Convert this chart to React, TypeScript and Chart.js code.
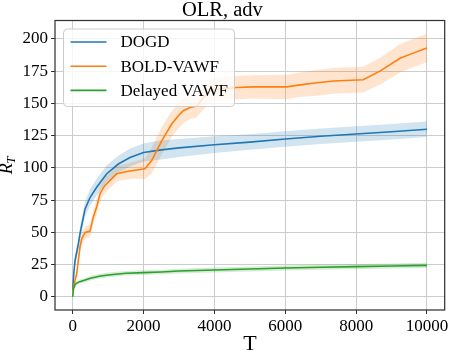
import React, { useEffect, useRef } from "react";
import { Chart, registerables } from "chart.js";

Chart.register(...registerables);

// ---------- data ----------
const titleText = "OLR, adv";
const xLabel = "T";
const yLabelMain = "R";
const yLabelSub = "T";
const legendLabels = ["DOGD", "BOLD-VAWF", "Delayed VAWF"];

const xTicks = [0, 2000, 4000, 6000, 8000, 10000];
const yTicks = [0, 25, 50, 75, 100, 125, 150, 175, 200];

const dogdT = [0, 30, 65, 160, 206, 347, 488, 677, 960, 1288, 1617, 2000, 2500, 3000, 4000, 5000, 6000, 7000, 8000, 9000, 10000];
const dogdMean = [5, 18, 28, 41, 49, 68, 77, 85, 95.5, 103, 108, 112, 114, 115.5, 118, 120, 122.4, 124.5, 126.3, 128, 130];
const dogdBand = [1, 3, 4, 5, 5.5, 6, 6.5, 6.5, 6.5, 6.5, 7, 7, 7.5, 7, 6.5, 6, 6, 6, 6, 6, 6];

const boldT = [0, 60, 113, 160, 206, 254, 350, 488, 583, 680, 771, 900, 1054, 1241, 1500, 1711, 2040, 2229, 2371, 2512, 2653, 2794, 2982, 3122, 3311, 3500, 3641, 3875, 4064, 4628, 5100, 6040, 6420, 6890, 7360, 8200, 8670, 9240, 9610, 10000];
const boldMean = [5, 12, 18, 28.5, 38.8, 45, 50, 51, 62, 70, 80, 86, 90.3, 95.4, 97, 98, 99.3, 105.7, 113.4, 121, 127.6, 134, 140.4, 144.3, 146.8, 148, 153, 159.7, 161, 162.3, 162.8, 162.8, 164.4, 166, 167.4, 168.4, 175, 185, 189, 193];
const boldBand = [1, 2, 3, 4, 4, 5, 5, 5, 5.5, 6, 6, 6, 6, 6, 6, 6.5, 8, 10, 10.5, 10.5, 10.5, 10, 10, 9.5, 9, 9, 9, 9, 9, 9, 9, 9.5, 9.5, 10, 10, 10, 10.5, 11, 11, 11];

const delayT = [0, 20, 50, 100, 200, 350, 500, 750, 1000, 1500, 2000, 2500, 3000, 4000, 5000, 6000, 7000, 8000, 9000, 10000];
const delayMean = [0, 6, 8.5, 10.5, 11.8, 13, 14.4, 16, 17, 18.3, 18.8, 19.3, 20, 20.8, 21.6, 22.4, 23, 23.4, 23.9, 24.4];
const delayBand = [0.3, 1, 1.3, 1.5, 1.5, 1.6, 1.7, 1.8, 1.8, 1.8, 1.8, 1.8, 1.8, 1.9, 1.9, 1.9, 2, 2, 2, 2];

const colors = ["#1f77b4", "#ff7f0e", "#2ca02c"];
const bandColors = ["rgba(31,119,180,0.2)", "rgba(255,127,14,0.2)", "rgba(44,160,44,0.2)"];

const SERIF = "'Liberation Serif', 'DejaVu Serif', serif";

function pts(t: number[], v: number[], d: number[], sign: number) {
  return t.map((x, i) => ({ x, y: v[i] + sign * d[i] }));
}

function lineDs(label: string, t: number[], v: number[], color: string, order: number) {
  return {
    label,
    data: pts(t, v, t.map(() => 0), 0),
    borderColor: color,
    backgroundColor: color,
    borderWidth: 1.6,
    pointRadius: 0,
    tension: 0,
    fill: false,
    order,
  };
}

function bandDs(label: string, t: number[], v: number[], d: number[], sign: number, color: string, fill: any) {
  return {
    label,
    data: pts(t, v, d, sign),
    borderColor: "rgba(0,0,0,0)",
    backgroundColor: color,
    borderWidth: 0,
    pointRadius: 0,
    tension: 0,
    fill,
    order: 10,
  };
}

const decorPlugin = {
  id: "decor",
  afterDatasetsDraw(chart: any) {
    const { ctx, chartArea: a } = chart;
    ctx.save();
    // frame (spines)
    ctx.strokeStyle = "#333";
    ctx.lineWidth = 1.25;
    ctx.strokeRect(a.left, a.top, a.right - a.left, a.bottom - a.top);

    // legend
    const bx = a.left + 8.5;
    const by = a.top + 8.5;
    const bw = 171;
    const bh = 77.5;
    ctx.beginPath();
    if (ctx.roundRect) ctx.roundRect(bx, by, bw, bh, 4);
    else ctx.rect(bx, by, bw, bh);
    ctx.fillStyle = "rgba(255,255,255,0.8)";
    ctx.fill();
    ctx.strokeStyle = "#cccccc";
    ctx.lineWidth = 1;
    ctx.stroke();

    ctx.font = `17px ${SERIF}`;
    ctx.textBaseline = "middle";
    ctx.textAlign = "left";
    legendLabels.forEach((lab, i) => {
      const y = by + 13 + i * 24.2;
      ctx.strokeStyle = colors[i];
      ctx.lineWidth = 1.6;
      ctx.beginPath();
      ctx.moveTo(bx + 7, y);
      ctx.lineTo(bx + 43, y);
      ctx.stroke();
      ctx.fillStyle = "#000";
      ctx.fillText(lab, bx + 57, y + 1);
    });
    ctx.restore();
  },
  afterDraw(chart: any) {
    const { ctx, chartArea: a } = chart;
    ctx.save();
    ctx.fillStyle = "#000";
    // x label
    ctx.font = `22px ${SERIF}`;
    ctx.textAlign = "center";
    ctx.textBaseline = "alphabetic";
    ctx.fillText(xLabel, (a.left + a.right) / 2, 350);
    // y label with subscript
    const cy = (a.top + a.bottom) / 2;
    ctx.translate(11.5, cy);
    ctx.rotate(-Math.PI / 2);
    ctx.font = `italic 18px ${SERIF}`;
    const wR = ctx.measureText(yLabelMain).width;
    ctx.font = `italic 13px ${SERIF}`;
    const wT = ctx.measureText(yLabelSub).width;
    const start = -(wR + wT) / 2;
    ctx.textAlign = "left";
    ctx.font = `italic 18px ${SERIF}`;
    ctx.fillText(yLabelMain, start, 0);
    ctx.font = `italic 13px ${SERIF}`;
    ctx.fillText(yLabelSub, start + wR - 0.5, 3.5);
    ctx.restore();
  },
};

export default function App() {
  const ref = useRef<HTMLCanvasElement | null>(null);

  useEffect(() => {
    if (!ref.current) return;
    const datasets: any[] = [
      lineDs(legendLabels[2], delayT, delayMean, colors[2], 0),
      lineDs(legendLabels[1], boldT, boldMean, colors[1], 1),
      lineDs(legendLabels[0], dogdT, dogdMean, colors[0], 2),
      bandDs("dogd-lo", dogdT, dogdMean, dogdBand, -1, bandColors[0], false),
      bandDs("dogd-hi", dogdT, dogdMean, dogdBand, 1, bandColors[0], "-1"),
      bandDs("bold-lo", boldT, boldMean, boldBand, -1, bandColors[1], false),
      bandDs("bold-hi", boldT, boldMean, boldBand, 1, bandColors[1], "-1"),
      bandDs("delay-lo", delayT, delayMean, delayBand, -1, bandColors[2], false),
      bandDs("delay-hi", delayT, delayMean, delayBand, 1, bandColors[2], "-1"),
    ];

    const chart = new Chart(ref.current, {
      type: "line",
      data: { datasets },
      plugins: [decorPlugin],
      options: {
        animation: false,
        responsive: true,
        maintainAspectRatio: false,
        devicePixelRatio: 1,
        layout: { padding: { left: 0, right: 4.3, top: 0, bottom: 0 } },
        plugins: {
          legend: { display: false },
          tooltip: { enabled: false },
          title: {
            display: true,
            text: titleText,
            color: "#000",
            font: { family: SERIF, size: 20.5, weight: "normal", lineHeight: 1 },
            padding: { top: 0, bottom: 0 },
          },
        },
        scales: {
          x: {
            type: "linear",
            min: -500,
            max: 10500,
            afterBuildTicks: (axis: any) => {
              axis.ticks = xTicks.map((v) => ({ value: v }));
            },
            afterFit: (axis: any) => {
              axis.height = 42;
              axis.paddingLeft = 0;
              axis.paddingRight = 0;
            },
            grid: { color: "#cccccc", lineWidth: 1, tickColor: "#333", tickLength: 4, drawTicks: true },
            border: { display: false },
            ticks: {
              color: "#000",
              font: { family: SERIF, size: 17 },
              padding: 2,
              maxRotation: 0,
              autoSkip: false,
              callback: (v: any) => String(v),
            },
          },
          y: {
            type: "linear",
            min: -10.2,
            max: 214.3,
            afterBuildTicks: (axis: any) => {
              axis.ticks = yTicks.map((v) => ({ value: v }));
            },
            afterFit: (axis: any) => {
              axis.width = 55;
              axis.paddingTop = 0;
              axis.paddingBottom = 0;
            },
            grid: { color: "#cccccc", lineWidth: 1, tickColor: "#333", tickLength: 4, drawTicks: true },
            border: { display: false },
            ticks: {
              color: "#000",
              font: { family: SERIF, size: 17 },
              padding: 3,
              autoSkip: false,
              callback: (v: any) => String(v),
            },
          },
        },
      },
    });
    return () => chart.destroy();
  }, []);

  return (
    <div style={{ position: "fixed", left: 0, top: 0, width: 449, height: 352, background: "#fff" }}>
      <canvas ref={ref} />
    </div>
  );
}
